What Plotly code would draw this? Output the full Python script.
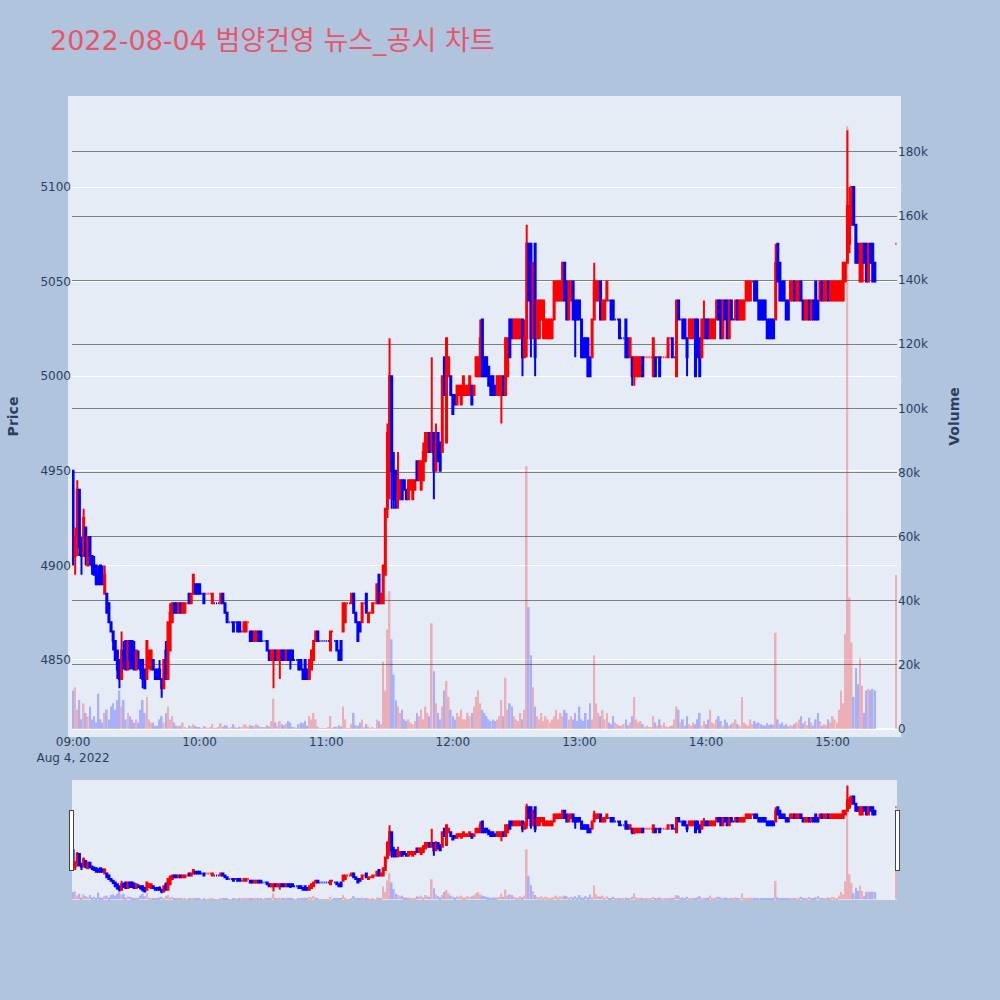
import pandas as pd
import plotly.graph_objects as go
from plotly.subplots import make_subplots

# 1-minute bars, 2022-08-04 09:00 ~ 15:20, plus the 15:30 closing auction
times = list(pd.date_range("2022-08-04 09:00", "2022-08-04 15:20", freq="1min")) + [pd.Timestamp("2022-08-04 15:30")]

open_ = [
    4950, 4905, 4915, 4940, 4910, 4905, 4920, 4900, 4915, 4905,
    4900, 4900, 4895, 4900, 4895, 4885, 4885, 4880, 4870, 4865,
    4860, 4855, 4850, 4840, 4855, 4860, 4845, 4860, 4860, 4855,
    4845, 4850, 4850, 4850, 4845, 4840, 4850, 4845, 4850, 4845,
    4845, 4845, 4840, 4835, 4855, 4840, 4855, 4870, 4880, 4880,
    4875, 4880, 4875, 4875, 4880, 4885, 4880, 4885, 4890, 4890,
    4890, 4885, 4885, 4885, 4885, 4885, 4880, 4880, 4880, 4880,
    4880, 4885, 4880, 4875, 4870, 4870, 4870, 4870, 4870, 4870,
    4865, 4865, 4865, 4870, 4865, 4865, 4860, 4860, 4865, 4865,
    4860, 4860, 4860, 4855, 4850, 4850, 4855, 4850, 4850, 4855,
    4855, 4850, 4855, 4855, 4855, 4850, 4850, 4850, 4850, 4845,
    4850, 4845, 4840, 4845, 4850, 4860, 4865, 4860, 4860, 4860,
    4860, 4860, 4855, 4865, 4860, 4860, 4855, 4860, 4865, 4870,
    4880, 4880, 4880, 4885, 4875, 4870, 4870, 4870, 4880, 4885,
    4870, 4875, 4875, 4880, 4880, 4895, 4880, 4880, 4895, 4930,
    4950, 5000, 4950, 4950, 4935, 4935, 4945, 4945, 4940, 4935,
    4940, 4935, 4940, 4955, 4945, 4940, 4945, 4955, 4960, 4970,
    4960, 4970, 4950, 4970, 4965, 4960, 5010, 4965, 5000, 5000,
    4990, 4990, 4985, 4990, 4985, 4990, 4990, 4990, 4990, 4995,
    4990, 5000, 5000, 5000, 5030, 5010, 5010, 5005, 5000, 5000,
    4995, 4990, 4990, 4990, 5000, 4990, 5000, 5030, 5030, 5020,
    5020, 5020, 5020, 5030, 5010, 5020, 5070, 5070, 5020, 5070,
    5020, 5020, 5030, 5020, 5020, 5020, 5020, 5020, 5030, 5040,
    5040, 5040, 5040, 5060, 5050, 5030, 5040, 5050, 5040, 5040,
    5040, 5030, 5020, 5020, 5020, 5010, 5010, 5030, 5040, 5040,
    5050, 5030, 5030, 5040, 5040, 5040, 5040, 5030, 5030, 5030,
    5020, 5020, 5030, 5020, 5010, 5010, 5000, 5000, 5000, 5000,
    5010, 5010, 5010, 5010, 5010, 5000, 5010, 5010, 5010, 5010,
    5010, 5010, 5010, 5020, 5020, 5010, 5000, 5040, 5030, 5030,
    5030, 5020, 5020, 5020, 5020, 5030, 5030, 5020, 5010, 5020,
    5030, 5030, 5020, 5020, 5020, 5030, 5040, 5040, 5020, 5040,
    5040, 5020, 5040, 5030, 5030, 5040, 5030, 5030, 5030, 5040,
    5040, 5040, 5050, 5050, 5050, 5040, 5040, 5040, 5040, 5030,
    5030, 5030, 5030, 5030, 5070, 5060, 5050, 5050, 5040, 5040,
    5040, 5040, 5050, 5040, 5040, 5050, 5040, 5030, 5030, 5040,
    5030, 5040, 5050, 5040, 5040, 5050, 5040, 5040, 5050, 5040,
    5040, 5040, 5040, 5040, 5040, 5040, 5050, 5060, 5070, 5080,
    5100, 5080, 5070, 5050, 5050, 5070, 5070, 5050, 5070, 5070,
    5060, 5070,
]
high = [
    4950, 4920, 4945, 4940, 4915, 4930, 4920, 4915, 4915, 4905,
    4905, 4900, 4900, 4900, 4900, 4900, 4885, 4880, 4870, 4865,
    4860, 4855, 4850, 4865, 4860, 4860, 4860, 4860, 4860, 4860,
    4855, 4855, 4850, 4850, 4845, 4860, 4855, 4855, 4850, 4845,
    4845, 4850, 4840, 4850, 4860, 4870, 4880, 4880, 4880, 4880,
    4880, 4880, 4880, 4880, 4880, 4885, 4885, 4895, 4890, 4890,
    4890, 4885, 4885, 4885, 4885, 4885, 4885, 4880, 4880, 4880,
    4885, 4885, 4880, 4875, 4870, 4870, 4870, 4870, 4870, 4870,
    4865, 4870, 4870, 4870, 4865, 4865, 4865, 4865, 4865, 4865,
    4860, 4860, 4860, 4855, 4855, 4855, 4855, 4855, 4855, 4855,
    4855, 4855, 4855, 4855, 4855, 4850, 4850, 4850, 4850, 4845,
    4850, 4845, 4850, 4855, 4860, 4865, 4865, 4860, 4860, 4860,
    4860, 4860, 4865, 4865, 4860, 4860, 4855, 4860, 4880, 4880,
    4880, 4880, 4885, 4885, 4875, 4870, 4870, 4880, 4880, 4885,
    4875, 4875, 4880, 4880, 4890, 4895, 4885, 4900, 4930, 4975,
    5020, 5000, 4960, 4950, 4960, 4945, 4945, 4945, 4940, 4945,
    4945, 4945, 4945, 4955, 4955, 4955, 4965, 4970, 4970, 4970,
    5010, 4970, 4975, 4970, 4965, 5000, 5010, 5020, 5010, 5000,
    4990, 4990, 4995, 4995, 4995, 5000, 4995, 4995, 5000, 4995,
    4995, 5010, 5010, 5030, 5030, 5010, 5010, 5005, 5000, 5000,
    4995, 5000, 5000, 5000, 5000, 5020, 5020, 5030, 5030, 5030,
    5030, 5030, 5030, 5030, 5030, 5080, 5070, 5070, 5060, 5070,
    5040, 5040, 5040, 5040, 5030, 5030, 5030, 5030, 5050, 5050,
    5050, 5050, 5060, 5060, 5050, 5050, 5050, 5050, 5040, 5040,
    5040, 5030, 5020, 5020, 5020, 5010, 5030, 5060, 5050, 5050,
    5050, 5040, 5040, 5050, 5040, 5040, 5040, 5030, 5030, 5030,
    5020, 5020, 5030, 5020, 5020, 5010, 5010, 5010, 5010, 5010,
    5010, 5010, 5010, 5010, 5010, 5020, 5010, 5010, 5010, 5010,
    5010, 5010, 5020, 5020, 5020, 5010, 5040, 5040, 5030, 5030,
    5030, 5020, 5030, 5030, 5030, 5030, 5030, 5020, 5030, 5040,
    5030, 5030, 5030, 5030, 5030, 5040, 5040, 5040, 5040, 5040,
    5040, 5040, 5040, 5030, 5040, 5040, 5040, 5040, 5040, 5050,
    5050, 5050, 5050, 5050, 5050, 5040, 5040, 5040, 5040, 5030,
    5030, 5030, 5030, 5070, 5070, 5060, 5050, 5050, 5040, 5040,
    5050, 5050, 5050, 5050, 5050, 5050, 5040, 5040, 5040, 5040,
    5040, 5040, 5050, 5040, 5050, 5050, 5050, 5050, 5050, 5050,
    5050, 5050, 5050, 5050, 5050, 5060, 5060, 5130, 5100, 5100,
    5100, 5080, 5070, 5070, 5070, 5070, 5070, 5070, 5070, 5070,
    5060, 5070,
]
low = [
    4900, 4895, 4905, 4905, 4895, 4905, 4900, 4900, 4900, 4895,
    4895, 4890, 4890, 4890, 4890, 4885, 4875, 4870, 4865, 4855,
    4850, 4840, 4835, 4840, 4845, 4845, 4845, 4845, 4845, 4845,
    4845, 4845, 4840, 4835, 4835, 4840, 4845, 4845, 4845, 4840,
    4840, 4840, 4830, 4835, 4840, 4840, 4855, 4870, 4875, 4875,
    4875, 4875, 4875, 4875, 4880, 4880, 4880, 4885, 4885, 4885,
    4885, 4885, 4880, 4885, 4885, 4885, 4880, 4880, 4880, 4880,
    4880, 4880, 4875, 4870, 4870, 4870, 4865, 4870, 4865, 4865,
    4865, 4865, 4865, 4870, 4860, 4860, 4860, 4860, 4860, 4860,
    4860, 4860, 4855, 4850, 4850, 4835, 4850, 4850, 4840, 4850,
    4850, 4850, 4850, 4845, 4850, 4850, 4850, 4845, 4845, 4840,
    4840, 4840, 4840, 4845, 4850, 4860, 4860, 4860, 4860, 4860,
    4860, 4860, 4855, 4865, 4860, 4855, 4850, 4850, 4865, 4870,
    4880, 4880, 4880, 4875, 4870, 4860, 4865, 4870, 4880, 4875,
    4870, 4875, 4875, 4880, 4880, 4880, 4880, 4880, 4895, 4925,
    4935, 4930, 4930, 4930, 4930, 4935, 4935, 4940, 4935, 4935,
    4940, 4935, 4940, 4945, 4945, 4940, 4945, 4955, 4960, 4960,
    4960, 4935, 4950, 4955, 4950, 4960, 4990, 4965, 5000, 4990,
    4980, 4985, 4985, 4990, 4985, 4990, 4990, 4990, 4990, 4985,
    4990, 5000, 5000, 5000, 5000, 5000, 5000, 4995, 4990, 4990,
    4990, 4990, 4990, 4975, 4990, 4990, 5000, 5010, 5020, 5020,
    5020, 5020, 5020, 5000, 5010, 5010, 5040, 5010, 5020, 5000,
    5020, 5020, 5030, 5020, 5020, 5020, 5020, 5020, 5030, 5040,
    5040, 5040, 5040, 5040, 5030, 5030, 5040, 5030, 5010, 5030,
    5030, 5010, 5010, 5010, 5000, 5000, 5010, 5030, 5040, 5040,
    5030, 5030, 5030, 5040, 5040, 5030, 5030, 5030, 5030, 5020,
    5020, 5020, 5010, 5010, 5010, 4995, 4995, 5000, 5000, 5000,
    5000, 5010, 5010, 5010, 5010, 5000, 5000, 5010, 5000, 5010,
    5010, 5010, 5010, 5020, 5010, 5010, 5000, 5030, 5030, 5020,
    5020, 5000, 5020, 5020, 5020, 5000, 5010, 5000, 5010, 5020,
    5020, 5020, 5020, 5020, 5020, 5030, 5030, 5020, 5020, 5030,
    5020, 5020, 5030, 5030, 5030, 5030, 5030, 5030, 5030, 5040,
    5040, 5040, 5050, 5040, 5040, 5030, 5030, 5030, 5030, 5020,
    5020, 5020, 5020, 5030, 5050, 5040, 5040, 5040, 5030, 5030,
    5040, 5040, 5040, 5040, 5040, 5040, 5030, 5030, 5030, 5030,
    5030, 5030, 5030, 5030, 5040, 5040, 5040, 5040, 5040, 5040,
    5040, 5040, 5040, 5040, 5040, 5040, 5050, 5060, 5065, 5080,
    5080, 5060, 5060, 5050, 5050, 5060, 5050, 5050, 5060, 5050,
    5050, 5070,
]
close = [
    4920, 4915, 4940, 4910, 4905, 4925, 4905, 4915, 4905, 4900,
    4895, 4890, 4890, 4890, 4890, 4895, 4875, 4870, 4865, 4860,
    4850, 4845, 4840, 4855, 4850, 4845, 4860, 4850, 4850, 4845,
    4855, 4850, 4845, 4840, 4835, 4860, 4855, 4855, 4845, 4840,
    4840, 4840, 4835, 4850, 4840, 4870, 4875, 4880, 4875, 4875,
    4880, 4875, 4880, 4880, 4880, 4880, 4885, 4895, 4885, 4885,
    4885, 4885, 4880, 4885, 4885, 4885, 4885, 4880, 4880, 4880,
    4885, 4880, 4875, 4870, 4870, 4870, 4865, 4870, 4865, 4865,
    4865, 4870, 4870, 4870, 4860, 4860, 4865, 4865, 4860, 4860,
    4860, 4860, 4855, 4850, 4855, 4855, 4850, 4855, 4855, 4850,
    4850, 4855, 4850, 4850, 4850, 4850, 4850, 4845, 4845, 4840,
    4840, 4840, 4850, 4855, 4860, 4865, 4860, 4860, 4860, 4860,
    4860, 4860, 4865, 4865, 4860, 4855, 4850, 4850, 4880, 4880,
    4880, 4880, 4885, 4875, 4870, 4860, 4865, 4880, 4880, 4875,
    4875, 4875, 4880, 4880, 4890, 4880, 4885, 4900, 4930, 4970,
    5000, 4950, 4935, 4940, 4945, 4945, 4935, 4940, 4935, 4945,
    4945, 4945, 4945, 4945, 4955, 4955, 4960, 4970, 4970, 4960,
    4970, 4950, 4965, 4955, 4950, 5000, 4990, 5020, 5010, 4990,
    4980, 4985, 4995, 4995, 4995, 5000, 4995, 4995, 5000, 4985,
    4995, 5010, 5010, 5020, 5000, 5000, 5000, 4995, 4990, 4990,
    4990, 5000, 5000, 5000, 4990, 5020, 5020, 5010, 5020, 5030,
    5030, 5030, 5030, 5010, 5020, 5070, 5040, 5020, 5060, 5010,
    5040, 5040, 5040, 5040, 5030, 5030, 5030, 5030, 5050, 5050,
    5050, 5050, 5060, 5040, 5030, 5050, 5050, 5030, 5030, 5030,
    5030, 5010, 5010, 5010, 5000, 5000, 5030, 5050, 5050, 5050,
    5030, 5040, 5040, 5050, 5040, 5030, 5030, 5030, 5030, 5020,
    5020, 5020, 5010, 5010, 5020, 5000, 5010, 5010, 5010, 5010,
    5000, 5010, 5010, 5010, 5010, 5020, 5000, 5010, 5000, 5010,
    5010, 5010, 5020, 5020, 5010, 5010, 5040, 5030, 5030, 5020,
    5020, 5010, 5030, 5030, 5030, 5000, 5010, 5000, 5030, 5030,
    5020, 5020, 5030, 5030, 5030, 5040, 5030, 5020, 5040, 5030,
    5020, 5040, 5030, 5030, 5040, 5030, 5040, 5040, 5040, 5050,
    5050, 5050, 5050, 5040, 5040, 5030, 5030, 5030, 5030, 5020,
    5020, 5020, 5020, 5060, 5050, 5040, 5040, 5040, 5030, 5030,
    5050, 5050, 5040, 5050, 5050, 5040, 5030, 5040, 5040, 5030,
    5040, 5030, 5030, 5030, 5050, 5040, 5050, 5050, 5040, 5050,
    5050, 5050, 5050, 5050, 5050, 5060, 5060, 5090, 5090, 5100,
    5080, 5060, 5060, 5070, 5070, 5060, 5050, 5070, 5060, 5050,
    5050, 5070,
]
volume = [
    12000, 13000, 6000, 9000, 3000, 8000, 5000, 4000, 7000, 3000,
    4000, 2000, 11000, 3000, 2000, 5000, 6000, 3000, 7000, 8000,
    6000, 9000, 12000, 7000, 9000, 3000, 5000, 4000, 3000, 2000,
    3000, 2000, 6000, 9000, 5000, 10000, 3000, 2000, 2000, 1000,
    1000, 3000, 4000, 2000, 5000, 7000, 3000, 4000, 2000, 1000,
    1000, 1000, 2000, 500, 300, 1000, 800, 1500, 1000, 600,
    500, 300, 900, 400, 300, 500, 1500, 300, 200, 400,
    1800, 800, 1200, 1000, 300, 400, 1500, 500, 300, 700,
    600, 1500, 1300, 500, 1200, 1000, 900, 1500, 1000, 600,
    400, 500, 1200, 800, 2500, 9500, 2000, 1000, 2500, 1500,
    1200, 1800, 2500, 2000, 600, 400, 300, 1500, 2000, 1800,
    2500, 1000, 4000, 3000, 5000, 3000, 700, 300, 200, 300,
    200, 400, 4000, 300, 500, 700, 1200, 800, 7000, 3000,
    300, 200, 1500, 5000, 1200, 1000, 2000, 3000, 500, 1500,
    800, 300, 600, 300, 3000, 2500, 1500, 21000, 12000, 31000,
    43000, 28000, 17000, 9000, 7000, 5000, 6000, 3000, 2500, 3000,
    2000, 1500, 2500, 5000, 4000, 6000, 3000, 7000, 5000, 4000,
    33000, 18000, 8000, 5000, 3000, 7000, 12000, 15000, 10000, 6000,
    4000, 3000, 5000, 4000, 6000, 3000, 3000, 5000, 4000, 5000,
    7000, 10000, 12000, 8000, 6000, 5000, 4000, 3000, 2500, 3000,
    2500, 3000, 4000, 9000, 4000, 16000, 6000, 8000, 7000, 4000,
    3000, 2500, 5000, 3000, 6000, 82000, 38000, 23000, 13000, 7000,
    4000, 3000, 5000, 2500, 4000, 3000, 2000, 3000, 4000, 6000,
    3000, 5000, 4000, 6000, 5000, 3000, 4000, 3000, 5000, 2500,
    7000, 3000, 2500, 5000, 3000, 8000, 3000, 23000, 8000, 5000,
    4000, 6000, 3000, 5000, 2000, 1500, 4000, 2000, 1500, 1000,
    1000, 1500, 3000, 1200, 2000, 4000, 10000, 3000, 2000, 2500,
    1500, 800, 1000, 600, 500, 4000, 2000, 1000, 3000, 1200,
    2000, 800, 600, 1000, 1000, 3000, 7000, 6000, 2000, 3000,
    1000, 4000, 1500, 1000, 2000, 1500, 3000, 5000, 1000, 2500,
    1500, 3000, 6000, 2000, 1500, 3000, 4000, 2500, 1000, 3000,
    2000, 1000, 1500, 2000, 3000, 1500, 1000, 10000, 2000, 1500,
    1000, 3000, 1500, 2500, 1800, 2000, 1500, 1200, 1000, 1800,
    1200, 1500, 1300, 30000, 3000, 1500, 2000, 1000, 1500, 800,
    1200, 1000, 1500, 2000, 3000, 4000, 1800, 2500, 1200, 3500,
    2000, 1000, 3000, 5000, 2500, 1000, 1500, 1200, 3000, 2000,
    4000, 3000, 2000, 6000, 12000, 8000, 29600, 188000, 41000, 27000,
    10000, 19000, 14000, 22000, 13500, 5000, 12000, 12500, 12000, 12500,
    12000, 48000,
]

# volume bar colour follows the candle direction (red = up, blue = down)
vol_colors = []
for i in range(len(close)):
    if close[i] > open_[i]:
        vol_colors.append("red")
    elif close[i] < open_[i]:
        vol_colors.append("blue")
    else:
        prev = close[i - 1] if i > 0 else close[i]
        vol_colors.append("red" if close[i] >= prev else "blue")

fig = make_subplots(specs=[[{"secondary_y": True}]])

fig.add_trace(go.Candlestick(x=times, open=open_, high=high, low=low, close=close,
                             increasing=dict(line=dict(color="red"), fillcolor="red"),
                             decreasing=dict(line=dict(color="blue"), fillcolor="blue"),
                             name="Price", showlegend=False),
              secondary_y=False)

fig.add_trace(go.Bar(x=times, y=volume, marker=dict(color=vol_colors, line=dict(width=0)),
                     opacity=0.25, name="Volume", showlegend=False),
              secondary_y=True)

fig.update_layout(
    title=dict(text="2022-08-04 범양건영 뉴스_공시 차트", font=dict(size=27, color="#EB5468")),
    font=dict(family="DejaVu Sans, Noto Sans CJK KR"),
    paper_bgcolor="#B0C4DE",
    plot_bgcolor="#E5ECF6",
    width=1000, height=1000,
    margin=dict(l=72, r=103, t=100, b=100),
    showlegend=False,
    # plot background reaches a few px past the axes
    shapes=[dict(type="rect", xref="paper", yref="paper",
                 x0=-0.0049, x1=1.0049, y0=-0.0064, y1=1.0064,
                 fillcolor="#E5ECF6", line=dict(width=0), layer="below")],
)

fig.update_yaxes(title_text="Price", title_font=dict(size=14, weight="bold"), title_standoff=18,
                 range=[4811.4, 5146], secondary_y=False)
fig.update_yaxes(title_text="Volume", title_font=dict(size=14, weight="bold"), title_standoff=22,
                 range=[-1250, 196200], dtick=20000, gridcolor="gray", secondary_y=True)
fig.update_xaxes(domain=[0, 1], rangeslider=dict(visible=True))

fig.write_html("out.html", config={"displayModeBar": False},
               post_script="document.body.style.margin='0';")
